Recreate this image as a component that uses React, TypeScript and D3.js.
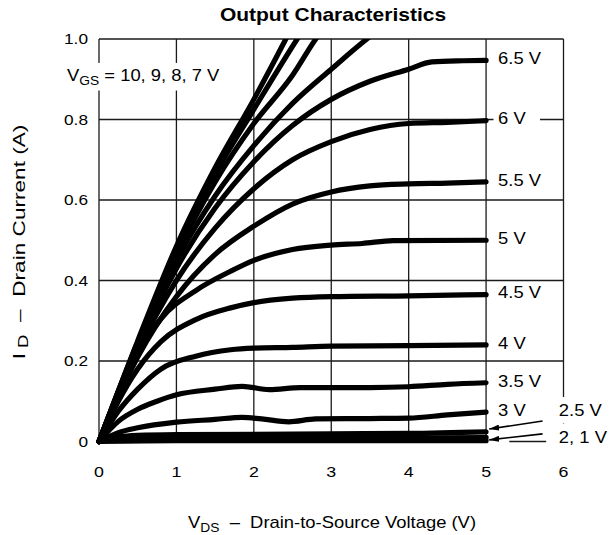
import React, { useEffect, useRef } from 'react';
import * as d3 from 'd3';

// axis ticks
const xTicks = [0, 1, 2, 3, 4, 5, 6];
const yTicks = [0, 0.2, 0.4, 0.6, 0.8, 1.0];
const yTickLabels = ['0', '0.2', '0.4', '0.6', '0.8', '1.0'];

// drain current (A) vs VDS (V), one array per gate voltage
const vgs10 = [[0, 0], [0.5, 0.25], [1, 0.485], [1.5, 0.68], [2, 0.85], [2.4, 0.995], [2.6, 1.07]];
const vgs9 = [[0, 0], [0.5, 0.247], [1, 0.475], [1.5, 0.665], [2, 0.825], [2.56, 1.0], [2.8, 1.07]];
const vgs8 = [[0, 0], [0.5, 0.243], [1, 0.465], [1.5, 0.645], [2, 0.79], [2.5, 0.91], [2.8, 1.0], [3, 1.05]];
const vgs7 = [[0, 0], [0.5, 0.24], [1, 0.45], [1.5, 0.61], [2, 0.735], [2.5, 0.84], [3, 0.925], [3.46, 1.0], [3.7, 1.035]];
const vgs65 = [[0, 0], [0.5, 0.235], [1, 0.43], [1.5, 0.58], [2, 0.695], [2.5, 0.785], [3, 0.85], [3.5, 0.895], [4, 0.925], [4.3, 0.943], [4.7, 0.946], [5, 0.947]];
const vgs6 = [[0, 0], [0.5, 0.225], [1, 0.4], [1.5, 0.53], [2, 0.628], [2.5, 0.7], [3, 0.745], [3.5, 0.775], [4, 0.79], [4.5, 0.793], [5, 0.797]];
const vgs55 = [[0, 0], [0.5, 0.21], [1, 0.36], [1.5, 0.465], [2, 0.535], [2.5, 0.59], [3, 0.62], [3.5, 0.635], [4, 0.64], [4.5, 0.642], [5, 0.645]];
const vgs5 = [[0, 0], [0.25, 0.118], [0.5, 0.218], [0.8, 0.305], [1.25, 0.375], [1.7, 0.423], [2, 0.45], [2.5, 0.477], [3, 0.488], [3.4, 0.492], [3.8, 0.499], [5, 0.5]];
const vgs45 = [[0, 0], [0.25, 0.1], [0.5, 0.18], [0.8, 0.248], [1.25, 0.303], [1.7, 0.332], [2, 0.345], [2.5, 0.356], [3, 0.36], [4, 0.362], [5, 0.365]];
const vgs4 = [[0, 0], [0.25, 0.075], [0.5, 0.13], [0.8, 0.18], [1.25, 0.212], [1.7, 0.228], [2, 0.232], [2.5, 0.234], [3, 0.237], [4, 0.238], [5, 0.24]];
const vgs35 = [[0, 0], [0.25, 0.05], [0.5, 0.08], [0.75, 0.1], [1, 0.116], [1.5, 0.13], [1.85, 0.137], [2.2, 0.129], [2.6, 0.134], [3.5, 0.134], [4, 0.136], [4.5, 0.142], [5, 0.146]];
const vgs3 = [[0, 0], [0.25, 0.022], [0.5, 0.034], [1, 0.048], [1.5, 0.055], [1.85, 0.06], [2.1, 0.056], [2.45, 0.049], [2.8, 0.056], [3.5, 0.057], [4, 0.058], [4.5, 0.066], [5, 0.073]];
const vgs25 = [[0, 0], [0.25, 0.011], [0.5, 0.015], [1, 0.017], [2, 0.018], [3, 0.019], [4, 0.02], [5, 0.024]];
const vgs2 = [[0, 0], [0.3, 0.006], [1, 0.008], [3, 0.008], [5, 0.01]];
const vgs1 = [[0, 0], [1, 0.002], [5, 0.002]];

const curves = [vgs10, vgs9, vgs8, vgs7, vgs65, vgs6, vgs55, vgs5, vgs45, vgs4, vgs35, vgs3, vgs25, vgs2, vgs1];

// labels at the end of the curves
const endLabels = ['6.5 V', '6 V', '5.5 V', '5 V', '4.5 V', '4 V', '3.5 V', '3 V'];
const endCurves = [vgs65, vgs6, vgs55, vgs5, vgs45, vgs4, vgs35, vgs3];

const FONT = "'Liberation Sans', Arial, Helvetica, sans-serif";
const SX = 1.15;

const App = () => {
  const svgRef = useRef<SVGSVGElement>(null);

  useEffect(() => {
    const svg = d3.select(svgRef.current);
    svg.selectAll('*').remove();

    const x = d3.scaleLinear().domain([0, 6]).range([99, 563.5]);
    const y = d3.scaleLinear().domain([0, 1]).range([441.5, 39]);

    const defs = svg.append('defs');
    defs.append('clipPath').attr('id', 'plotclip')
      .append('rect')
      .attr('x', x(0) - 5).attr('y', y(1))
      .attr('width', x(6) - x(0) + 10).attr('height', y(0) - y(1) + 10);
    defs.append('marker')
      .attr('id', 'arrow').attr('viewBox', '0 0 10 6')
      .attr('refX', 10).attr('refY', 3)
      .attr('markerWidth', 10).attr('markerHeight', 6)
      .attr('markerUnits', 'userSpaceOnUse')
      .attr('orient', 'auto')
      .append('path').attr('d', 'M0,0 L10,3 L0,6 Z').attr('fill', '#000');

    const gridColor = '#1a1a1a';
    const grid = svg.append('g').attr('stroke', gridColor).attr('stroke-width', 1.3);

    // vertical grid
    xTicks.slice(1, -1).forEach(t => {
      grid.append('line').attr('x1', x(t)).attr('x2', x(t)).attr('y1', y(0)).attr('y2', y(1));
    });
    // horizontal grid
    yTicks.slice(1, -1).forEach(t => {
      grid.append('line').attr('x1', x(0)).attr('x2', x(6)).attr('y1', y(t)).attr('y2', y(t));
    });
    // frame
    grid.append('line').attr('x1', x(0)).attr('x2', x(6)).attr('y1', y(1)).attr('y2', y(1));
    grid.append('line').attr('x1', x(0)).attr('x2', x(0)).attr('y1', y(0)).attr('y2', y(1));
    grid.append('line').attr('x1', x(6)).attr('x2', x(6)).attr('y1', y(0)).attr('y2', y(1));
    grid.append('line').attr('x1', x(0)).attr('x2', x(5)).attr('y1', y(0)).attr('y2', y(0));
    grid.append('line').attr('x1', x(5.3)).attr('x2', x(6)).attr('y1', y(0)).attr('y2', y(0));

    // curves
    const line = d3.line<number[]>()
      .x(d => x(d[0]))
      .y(d => y(d[1]))
      .curve(d3.curveMonotoneX);

    svg.append('g').attr('clip-path', 'url(#plotclip)')
      .selectAll('path')
      .data(curves)
      .enter()
      .append('path')
      .attr('d', d => line(d))
      .attr('fill', 'none')
      .attr('stroke', '#000')
      .attr('stroke-width', 5.2)
      .attr('stroke-linecap', 'round')
      .attr('stroke-linejoin', 'round');

    // text helper: glyphs are a bit wide in the original
    const addText = (px, py, parts, opts: any = {}) => {
      const size = opts.size || 16;
      const g = svg.append('g')
        .attr('transform', `translate(${px},${py}) ${opts.rotate ? `rotate(${opts.rotate})` : ''} scale(${opts.sx || SX},1)`);
      const t = g.append('text')
        .attr('font-family', FONT)
        .attr('font-size', size)
        .attr('font-weight', opts.bold ? 'bold' : 'normal')
        .attr('text-anchor', opts.anchor || 'start')
        .attr('fill', '#000')
        .attr('y', size * 0.36);
      parts.forEach(p => {
        if (typeof p === 'string') {
          t.append('tspan').text(p);
        } else {
          t.append('tspan').attr('font-size', p.size).attr('dy', p.dy).text(p.text);
        }
      });
      if (opts.mask) {
        const b = (t.node() as SVGTextElement).getBBox();
        const [pl, pr, pv] = opts.mask;
        g.insert('rect', 'text')
          .attr('x', b.x - pl).attr('y', b.y - pv)
          .attr('width', b.width + pl + pr).attr('height', b.height + pv * 2)
          .attr('fill', '#fff');
      }
      return g;
    };

    // tick labels
    yTicks.forEach((t, i) => addText(88, y(t), [yTickLabels[i]], { size: 15, anchor: 'end' }));
    xTicks.forEach(t => addText(x(t), 471, [String(t)], { size: 15.5, anchor: 'middle' }));

    // title & axis titles
    addText(333, 15, ['Output Characteristics'], { size: 17.5, bold: true, anchor: 'middle', sx: 1.2 });
    addText(332, 522, ['V', { text: 'DS', size: 12, dy: 4 }, { text: '\u00a0 \u2013 \u00a0Drain-to-Source Voltage (V)', size: 16, dy: -4 }], { anchor: 'middle' });
    addText(19, 242, ['I', { text: '\u00a0D', size: 14, dy: 3 }, { text: '\u00a0 \u2013 \u00a0Drain Current (A)', size: 17, dy: -3 }], { anchor: 'middle', rotate: -90, size: 17, sx: 1.33 });

    // gate voltage annotation
    addText(67, 75, ['V', { text: 'GS', size: 12, dy: 4 }, { text: '\u00a0= 10, 9, 8, 7 V', size: 16, dy: -4 }], { mask: [3, 3, 3] });

    // labels at curve ends
    endLabels.forEach((lab, i) => {
      const c = endCurves[i];
      addText(x(5) + 12, y(c[c.length - 1][1]) - 2, [lab], { mask: [4, 12, 1] });
    });

    // lowest curves: labels with arrows
    addText(x(5.94), y(0.078), ['2.5 V'], { mask: [5, 10, 4] });
    addText(x(5.94), y(0.011), ['2, 1 V'], { mask: [11, 10, 4] });

    const arrows = [
      [[5.73, 0.051], [5.04, 0.031]],
      [[5.73, 0.019], [5.04, 0.004]],
    ];
    arrows.forEach(a => {
      svg.append('line')
        .attr('x1', x(a[0][0])).attr('y1', y(a[0][1]))
        .attr('x2', x(a[1][0])).attr('y2', y(a[1][1]))
        .attr('stroke', '#000').attr('stroke-width', 1.6)
        .attr('marker-end', 'url(#arrow)');
    });
  }, []);

  return (
    <svg
      ref={svgRef}
      width={609}
      height={535}
      style={{ position: 'absolute', left: 0, top: 0, background: '#fff' }}
    />
  );
};

export default App;
